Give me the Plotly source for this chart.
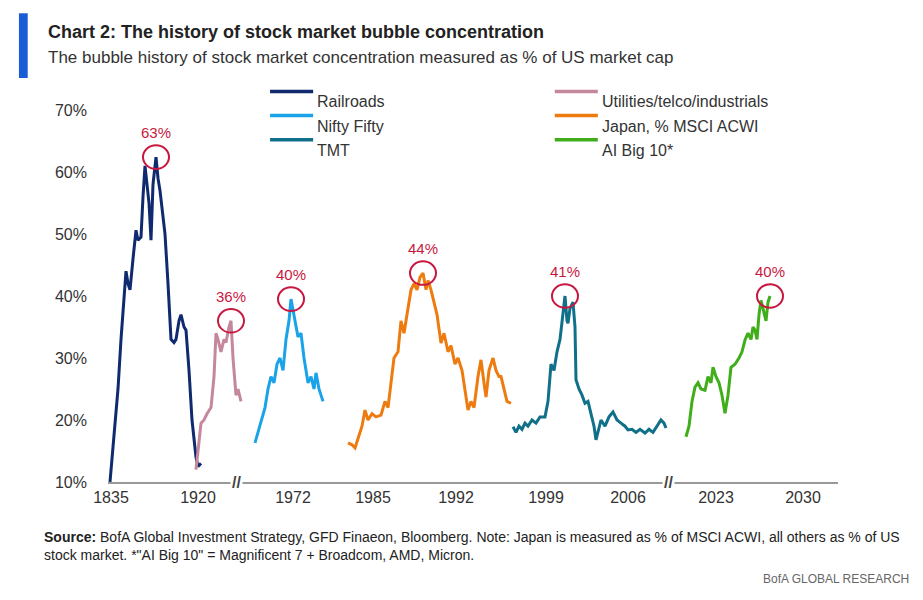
import plotly.graph_objects as go

# x positions are in the chart's broken-axis position units (ticks below)
tick_pos = [103, 190, 285, 365, 448, 538, 620, 708, 795]
tick_labels = ["1835", "1920", "1972", "1985", "1992", "1999", "2006", "2023", "2030"]

rail_x = [102, 106, 110, 113, 116, 118, 120, 122, 125, 128, 130, 133, 135, 137, 139, 141, 143, 145, 148, 150, 152, 154, 157, 160, 163, 166, 168, 171, 173, 176, 178, 181, 184, 188, 190, 193]
rail_y = [10, 18, 25, 33, 40, 44, 42, 41, 46, 50.6, 49, 49.5, 56, 61, 58, 55, 49, 58, 62.4, 59, 57, 54, 50, 42, 33, 32.5, 33, 36, 37, 35, 34.5, 28, 20, 14, 12.5, 13]
util_x = [188, 191, 193, 196, 199, 203, 206, 208, 210, 213, 216, 218, 221, 223, 225, 228, 230, 233]
util_y = [12, 16, 19.5, 20, 21, 22, 27, 34, 33, 31, 33, 32.5, 35, 36, 30, 24, 25, 23]
nifty_x = [247, 250, 254, 257, 260, 263, 266, 269, 272, 275, 278, 281, 283, 286, 288, 290, 293, 296, 300, 303, 306, 308, 311, 315]
nifty_y = [16.3, 18, 20, 22, 25, 27, 26, 29, 30, 28, 33, 36, 39.5, 37, 35, 33.4, 34, 30, 26, 27, 25, 27.6, 25, 23]
japan_x = [340, 344, 347, 350, 354, 357, 360, 364, 368, 373, 377, 380, 383, 386, 390, 393, 396, 400, 403, 406, 409, 412, 415, 418, 420, 423, 426, 429, 433, 436, 440, 443, 447, 450, 454, 457, 460, 463, 466, 470, 473, 476, 478, 481, 485, 488, 491, 493, 496, 499, 503]
japan_y = [16.3, 16, 15.5, 17, 19, 21.6, 20, 21, 20.5, 20.8, 23, 22, 26, 30, 31, 36, 34, 38, 41, 42, 41, 43, 43.7, 41, 42.5, 41, 39, 37, 32.4, 34, 31, 32, 29, 30, 28, 25, 21.6, 23, 22, 27, 29.7, 26, 23.7, 28, 30, 28, 27, 27, 25, 23, 22.7]
tmt_x = [505, 508, 511, 514, 517, 520, 524, 528, 532, 537, 540, 543, 546, 549, 552, 555, 557, 559, 560, 562, 565, 567, 568, 571, 574, 577, 580, 583, 586, 588, 590, 593, 597, 601, 605, 609, 613, 617, 620, 624, 628, 632, 637, 641, 645, 649, 653, 656, 658]
tmt_y = [18.9, 18, 19, 18.5, 19.5, 19, 20, 19.5, 20.5, 20.5, 23, 29, 28, 31, 33, 37, 40, 36, 35.6, 38, 39, 35, 26.5, 25, 24, 22.7, 23, 21, 19, 16.8, 18, 20, 19, 20.5, 21.3, 20, 19.5, 19, 18.4, 18.5, 18, 18.5, 17.9, 18.5, 18, 19, 20, 19.5, 18.7]
ai_x = [678, 681, 684, 687, 690, 693, 697, 700, 703, 705, 708, 711, 714, 717, 720, 723, 727, 731, 734, 737, 740, 743, 745, 747, 749, 751, 753, 755, 758, 760, 762]
ai_y = [17.3, 19, 23, 25.3, 26, 25, 24.8, 27, 26, 28.5, 27, 26, 24, 21.1, 24, 28.5, 29, 30, 31, 32.9, 34, 33, 35, 34.5, 33, 37, 39.3, 38, 36, 39, 40]

peak_x = [148, 223, 283, 415, 557, 762]
peak_y = [62.4, 36, 39.5, 43.7, 40, 40]
peak_labels = ["63%", "36%", "40%", "44%", "41%", "40%"]

series = [
    ("Railroads", rail_x, rail_y, "#0f2a6e"),
    ("Utilities/telco/industrials", util_x, util_y, "#c4879c"),
    ("Nifty Fifty", nifty_x, nifty_y, "#1aa3e8"),
    ("Japan, % MSCI ACWI", japan_x, japan_y, "#ee7b0f"),
    ("TMT", tmt_x, tmt_y, "#10708a"),
    ("AI Big 10*", ai_x, ai_y, "#3fae1a"),
]

fig = go.Figure()
for name, xs, ys, c in series:
    fig.add_trace(go.Scatter(x=xs, y=ys, mode="lines", name=name,
                             line=dict(color=c, width=3), showlegend=False))

shapes = []
annotations = []
red = "#c8183f"
for px, py, lab in zip(peak_x, peak_y, peak_labels):
    shapes.append(dict(type="circle", xref="x", yref="y", x0=px - 13, x1=px + 13,
                       y0=py - 1.9, y1=py + 1.9, line=dict(color=red, width=2)))
    annotations.append(dict(x=px, y=py + 2.3, xref="x", yref="y", text=lab, showarrow=False,
                            yanchor="bottom", font=dict(color=red, size=15)))

# manual legend
leg_pos = [(0.222, 1.05), (0.612, 1.05), (0.222, 0.985), (0.612, 0.985), (0.222, 0.92), (0.612, 0.92)]
for (name, xs, ys, c), (lx, ly) in zip(series, leg_pos):
    shapes.append(dict(type="line", xref="paper", yref="paper", x0=lx, x1=lx + 0.059,
                       y0=ly, y1=ly, line=dict(color=c, width=3.5)))
    annotations.append(dict(x=lx + 0.062, y=ly, xref="paper", yref="paper", text=name,
                            showarrow=False, xanchor="left", font=dict(size=16, color="#333")))

# axis breaks
for bx in [228, 660]:
    annotations.append(dict(x=bx, y=10, xref="x", yref="y", text="<b>//</b>", showarrow=False,
                            bgcolor="white", font=dict(size=16, color="#444")))

annotations += [
    dict(x=-0.085, y=1.241, xref="paper", yref="paper", yanchor="top", xanchor="left", showarrow=False,
         text="<b>Chart 2: The history of stock market bubble concentration</b>",
         font=dict(size=18, color="#222", family="Liberation Sans Narrow, Liberation Sans")),
    dict(x=-0.085, y=1.171, xref="paper", yref="paper", yanchor="top", xanchor="left", showarrow=False,
         text="The bubble history of stock market concentration measured as % of US market cap",
         font=dict(size=17, color="#333", family="Liberation Sans Narrow, Liberation Sans")),
    dict(x=-0.09, y=-0.12, xref="paper", yref="paper", yanchor="top", xanchor="left", showarrow=False, align="left",
         text="<b>Source:</b> BofA Global Investment Strategy, GFD Finaeon, Bloomberg. Note: Japan is measured as % of MSCI ACWI, all others as % of US<br>stock market. *\"AI Big 10\" = Magnificent 7 + Broadcom, AMD, Micron.",
         font=dict(size=14, color="#222", family="Liberation Sans Narrow, Liberation Sans")),
    dict(x=1.1, y=-0.285, xref="paper", yref="paper", yanchor="bottom", xanchor="right", showarrow=False,
         text="BofA GLOBAL RESEARCH", font=dict(size=12, color="#666", family="Liberation Sans Narrow, Liberation Sans")),
]
shapes.append(dict(type="rect", xref="paper", yref="paper", x0=-0.122, x1=-0.11, y0=1.086, y1=1.26,
                   fillcolor="#1a5bd6", line=dict(width=0)))

fig.update_layout(
    width=923, height=600, paper_bgcolor="white", plot_bgcolor="white",
    margin=dict(l=100, r=93, t=102, b=126),
    font=dict(family="Liberation Sans Narrow, Liberation Sans", size=15, color="#333"),
    xaxis=dict(range=[100, 830], tickvals=tick_pos, ticktext=tick_labels, showgrid=False,
               showline=True, linecolor="#999", linewidth=1.5, ticks="", zeroline=False,
               tickfont=dict(size=16)),
    yaxis=dict(range=[10, 70], dtick=10, ticksuffix="%", showgrid=False, showline=False,
               zeroline=False, tickfont=dict(size=16), ticklabelstandoff=20),
    shapes=shapes, annotations=annotations, showlegend=False,
)
fig.write_html("out.html")
